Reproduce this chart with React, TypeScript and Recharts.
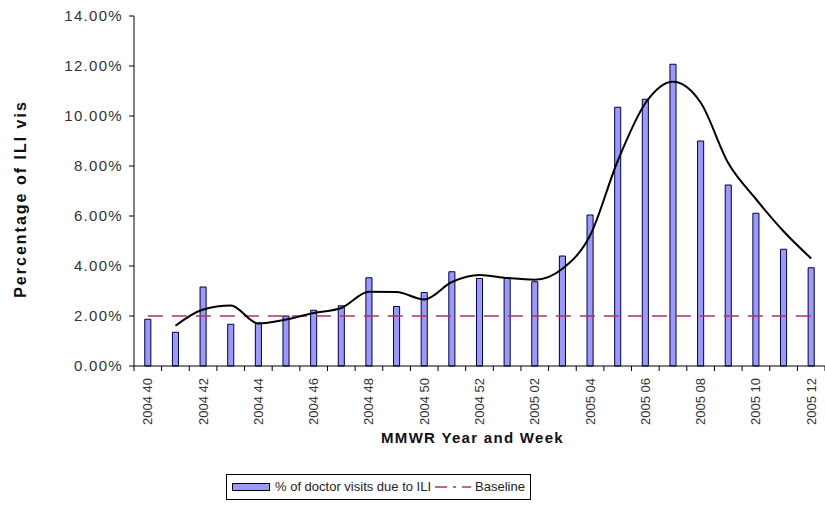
import { ComposedChart, Bar, Line, XAxis, YAxis, Legend } from 'recharts';

const weeks = [
  '2004 40', '2004 41', '2004 42', '2004 43', '2004 44', '2004 45', '2004 46', '2004 47', '2004 48',
  '2004 49', '2004 50', '2004 51', '2004 52', '2005 01', '2005 02', '2005 03', '2005 04', '2005 05',
  '2005 06', '2005 07', '2005 08', '2005 09', '2005 10', '2005 11', '2005 12',
];
const iliPct = [
  1.87, 1.35, 3.16, 1.67, 1.72, 2.0, 2.23, 2.41, 3.53, 2.38, 2.94, 3.77, 3.5,
  3.53, 3.37, 4.4, 6.04, 10.35, 10.67, 12.07, 9.0, 7.24, 6.11, 4.67, 3.93,
];
// trend line, no point at the first week
const trendPct = [
  null, 1.61, 2.26, 2.42, 1.7, 1.86, 2.12, 2.32, 2.97, 2.96, 2.66, 3.36, 3.64,
  3.52, 3.45, 3.89, 5.22, 8.2, 10.51, 11.37, 10.54, 8.12, 6.68, 5.39, 4.3,
];
const baselinePct = 2.0;
const yTicks = [0, 2, 4, 6, 8, 10, 12, 14];

const data = weeks.map((w, i) => ({
  week: w,
  ili: iliPct[i],
  trend: trendPct[i],
  baseline: baselinePct,
}));

const W = 825;
const H = 529;
const Y_AXIS_W = 134;
const BAND = (W - Y_AXIS_W) / weeks.length;
const FONT = '"Liberation Sans", Arial, sans-serif';
const BASE_COLOR = '#b8305e';

function WeekTick(props: any) {
  const { x, y, payload, index } = props;
  const axisY = y - 12;
  return (
    <g>
      <line x1={x - BAND / 2} y1={axisY} x2={x - BAND / 2} y2={axisY + 5} stroke="#000" />
      {index === weeks.length - 1 && (
        <line x1={x + BAND / 2} y1={axisY} x2={x + BAND / 2} y2={axisY + 5} stroke="#000" />
      )}
      {index % 2 === 0 && (
        <text
          x={x}
          y={y}
          transform={`rotate(-90, ${x}, ${y})`}
          textAnchor="end"
          dominantBaseline="central"
          fontSize={13}
          fontFamily={FONT}
          fill="#333"
        >
          {payload.value}
        </text>
      )}
    </g>
  );
}

function LegendBox() {
  return (
    <div
      style={{
        border: '1px solid #000',
        display: 'flex',
        alignItems: 'center',
        padding: '4px 5px 5px',
        fontFamily: FONT,
        fontSize: 13,
        color: '#222',
        background: '#fff',
        whiteSpace: 'nowrap',
      }}
    >
      <span
        style={{
          display: 'inline-block',
          width: 36,
          height: 6,
          background: '#9999ff',
          border: '1px solid #000',
          marginRight: 5,
        }}
      />
      <span>% of doctor visits due to ILI</span>
      <svg width={40} height={10} style={{ margin: '0 2px' }}>
        <line x1={2} y1={5} x2={38} y2={5} stroke={BASE_COLOR} strokeWidth={1.5} strokeDasharray="12 6 3 6" />
      </svg>
      <span>Baseline</span>
    </div>
  );
}

export default function App() {
  return (
    <div style={{ position: 'absolute', left: 0, top: 0, width: W, height: H, background: '#fff' }}>
      <ComposedChart
        width={W}
        height={H}
        data={data}
        margin={{ top: 16, right: 0, left: 0, bottom: 0 }}
        barCategoryGap="61%"
      >
        <XAxis
          dataKey="week"
          interval={0}
          height={163}
          tickSize={5}
          tickMargin={7}
          tickLine={false}
          axisLine={{ stroke: '#000' }}
          tick={<WeekTick />}
          label={(p: any) => {
            const vb = p.viewBox;
            return (
              <text
                x={vb.x + vb.width / 2 - 7}
                y={vb.y + 77}
                textAnchor="middle"
                fontSize={15}
                letterSpacing={1.3}
                fontWeight="bold"
                fontFamily={FONT}
                fill="#111"
              >
                MMWR Year and Week
              </text>
            );
          }}
        />
        <YAxis
          width={Y_AXIS_W}
          domain={[0, 14]}
          ticks={yTicks}
          interval={0}
          tickSize={5}
          tickMargin={6}
          axisLine={{ stroke: '#000' }}
          tickLine={{ stroke: '#000' }}
          tick={{ fontSize: 15, letterSpacing: 1.3, fontFamily: FONT, fill: '#333' }}
          tickFormatter={(v: number) => v.toFixed(2) + '%'}
          label={(p: any) => {
            const vb = p.viewBox;
            const cx = 20;
            const cy = vb.y + vb.height / 2 + 8;
            return (
              <text
                x={cx}
                y={cy}
                transform={`rotate(-90, ${cx}, ${cy})`}
                textAnchor="middle"
                dominantBaseline="central"
                fontSize={16}
                letterSpacing={2}
                fontWeight="bold"
                fontFamily={FONT}
                fill="#111"
              >
                Percentage of ILI vis
              </text>
            );
          }}
        />
        <Legend
          layout="horizontal"
          verticalAlign="middle"
          align="center"
          wrapperStyle={{ top: 474, left: 226, width: 'auto' }}
          content={() => <LegendBox />}
        />
        <Bar dataKey="ili" fill="#9999ff" stroke="#000040" strokeWidth={1} isAnimationActive={false} />
        <Line
          dataKey="baseline"
          type="linear"
          stroke={BASE_COLOR}
          strokeWidth={1.5}
          strokeDasharray="15 9"
          dot={false}
          isAnimationActive={false}
        />
        <Line
          dataKey="trend"
          type="monotone"
          stroke="#000"
          strokeWidth={2}
          dot={false}
          connectNulls
          isAnimationActive={false}
        />
      </ComposedChart>
    </div>
  );
}
